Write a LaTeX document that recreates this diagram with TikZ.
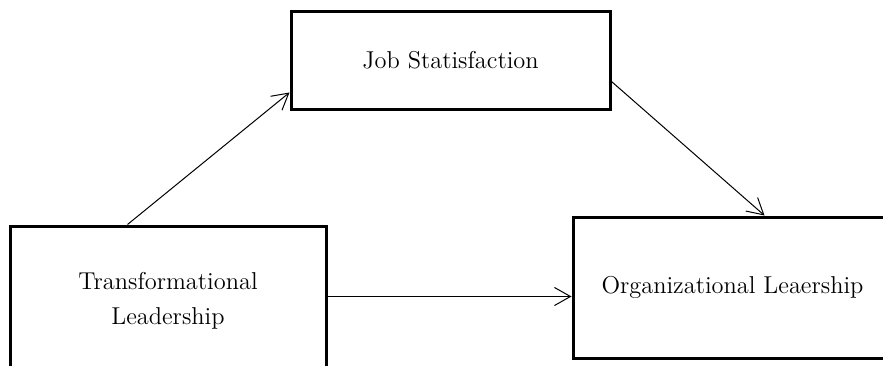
\documentclass[tikz,border=0pt]{standalone}
\usetikzlibrary{arrows, arrows.meta, positioning}
\begin{document}
\begin{tikzpicture}
\tikzset{var/.style={rectangle, draw, line width=1.5pt, align=center, font=\fontsize{12.2}{17.5}\selectfont},
		link/.style={-{Straight Barb[length=8pt,width=9pt]}, line width=0.5pt}}
\useasboundingbox (0,0) rectangle (441.5pt,182.5pt);
\clip (0,0) rectangle (441.5pt,182.5pt);
\node[var, minimum width=159.5pt, minimum height=48.5pt] (JS) at (225.25pt,152.25pt) {Job Statisfaction};
\node[var, minimum width=158pt, minimum height=74.5pt] (TL) at (84pt,32.25pt) {Transformational\\Leadership};
\node[var, minimum width=159.5pt, minimum height=70.5pt] (OL) at (366.25pt,38.75pt) {Organizational Leaership};
\draw[link] ([xshift=59.5pt]TL.north west) -- ([yshift=9pt]JS.south west);
\draw[link] ([yshift=14.5pt]JS.south east) -- ([xshift=96.5pt]OL.north west);
\coordinate (h) at ([yshift=2pt]TL.east);
\draw[link] (h) -- (h -| OL.west);
\end{tikzpicture}
\end{document}
